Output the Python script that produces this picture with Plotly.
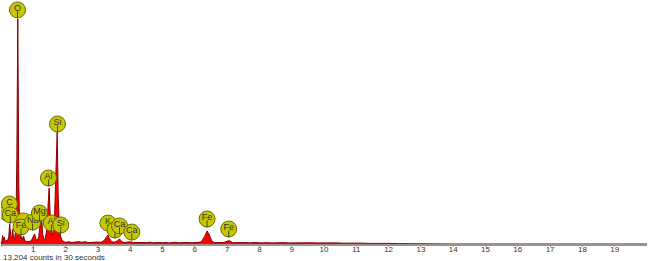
import plotly.graph_objects as go

# ---- spectrum (energy keV, counts) ----
energy = [0.00, 0.03, 0.05, 0.08, 0.10, 0.13, 0.16, 0.20, 0.24, 0.27, 0.30, 0.33, 0.36, 0.39, 0.42,
          0.46, 0.49, 0.52, 0.55, 0.58, 0.61, 0.64, 0.67, 0.70, 0.73, 0.77, 0.80, 0.85, 0.90, 0.95,
          1.00, 1.04, 1.08, 1.12, 1.17, 1.21, 1.25, 1.29, 1.33, 1.37, 1.42, 1.46, 1.49, 1.52, 1.56,
          1.60, 1.65, 1.69, 1.74, 1.77, 1.81, 1.85, 1.89, 1.95,
          2.0, 2.1, 2.2, 2.3, 2.4, 2.5, 2.6, 2.7, 2.8, 2.9, 3.0, 3.1, 3.2, 3.27, 3.31, 3.36, 3.42,
          3.5, 3.6, 3.67, 3.74, 3.8, 3.9, 4.0, 4.1, 4.2, 4.3, 4.4, 4.5, 4.6, 4.7, 4.8, 4.9,
          5.0, 5.1, 5.2, 5.3, 5.4, 5.5, 5.6, 5.7, 5.8, 5.9, 6.0, 6.1, 6.2, 6.3, 6.38, 6.45, 6.52,
          6.6, 6.7, 6.8, 6.9, 7.0, 7.06, 7.12, 7.2, 7.3, 7.4, 7.5, 7.6, 7.7, 7.8, 7.9,
          8.0, 8.1, 8.2, 8.3, 8.4, 8.5, 8.6, 8.7, 8.8, 8.9, 9.0, 9.2, 9.4, 9.6, 9.8,
          10.0, 10.2, 10.4, 10.6, 10.8, 11.0, 11.2, 11.4, 11.6, 11.8, 12.0, 12.3, 12.6, 13.0,
          13.5, 14.0, 20.0]
counts = [0, 25, 70, 35, 55, 20, 30, 25, 60, 165, 70, 40, 120, 50, 40,
          120, 700, 1845, 500, 90, 40, 60, 35, 65, 30, 25, 18, 22, 20, 35,
          70, 82, 40, 28, 60, 200, 262, 80, 35, 45, 120, 330, 459, 250, 110,
          70, 150, 500, 918, 400, 120, 60, 30, 18,
          14, 18, 12, 16, 20, 14, 18, 12, 15, 13, 16, 14, 30, 60, 74, 45, 20,
          14, 25, 41, 20, 12, 14, 18, 12, 14, 10, 13, 11, 15, 10, 14, 12,
          10, 13, 9, 12, 14, 10, 12, 9, 13, 10, 12, 11, 16, 60, 107, 75, 25,
          12, 14, 10, 13, 22, 28, 18, 10, 12, 9, 11, 13, 9, 12, 10,
          14, 9, 11, 13, 9, 10, 12, 8, 11, 9, 10, 12, 8, 10, 9,
          11, 8, 9, 7, 8, 6, 7, 5, 6, 4, 5, 3, 4, 2,
          1, 0, 0]

# ---- element labels (symbol, energy of label, height of label in counts) ----
label_sym = ["", "C", "Ca", "", "Fe", "Na", "Mg", "Al", "Si", "O", "Si", "Al",
             "K", "", "Ca", "Ca", "Fe", "Fe"]
label_e = [0.19, 0.26, 0.29, 0.70, 0.62, 0.98, 1.19, 1.56, 1.85, 0.51, 1.75, 1.47,
           3.31, 3.53, 3.67, 4.05, 6.38, 7.05]
label_y = [254, 328, 238, 189, 139, 180, 254, 172, 156, 1919, 984, 541,
           172, 115, 148, 98, 205, 123]

tick_vals = list(range(0, 20))
tick_text = [str(v) for v in tick_vals]
footer = "13,204 counts in 30 seconds"

Y_MAX = 2000
PLOT_H = 244
cpp = Y_MAX / PLOT_H  # counts per pixel

fig = go.Figure()
fig.add_trace(go.Scatter(x=energy, y=counts, mode="lines", fill="tozeroy",
                         fillcolor="#ff0000", line=dict(color="#8b0000", width=1),
                         hoverinfo="skip", showlegend=False))

for s, e, y in zip(label_sym, label_e, label_y):
    fig.add_trace(go.Scatter(x=[e], y=[y], mode="markers",
                             marker=dict(symbol="circle", size=16, color="#c4c800",
                                         line=dict(color="#6a6a10", width=1)),
                             showlegend=False, hoverinfo="skip"))
    fig.add_trace(go.Scatter(x=[e], y=[y - 5 * cpp], mode="markers",
                             marker=dict(symbol="line-ns", size=5,
                                         line=dict(color="#4a4a20", width=1)),
                             showlegend=False, hoverinfo="skip"))
    if s:
        fig.add_trace(go.Scatter(x=[e], y=[y + 1.5 * cpp], mode="text", text=[s],
                                 textposition="middle center",
                                 textfont=dict(family="Liberation Sans, Arial", size=9,
                                               color="#333333"),
                                 showlegend=False, hoverinfo="skip"))

fig.add_annotation(text=footer, xref="paper", yref="paper", x=0, y=0,
                   xanchor="left", yanchor="top", yshift=-7, xshift=0, showarrow=False,
                   font=dict(family="Liberation Sans, Arial", size=8, color="#333333"))

fig.update_layout(
    width=649, height=261,
    margin=dict(l=1, r=2, t=0, b=17),
    paper_bgcolor="white", plot_bgcolor="white",
    xaxis=dict(range=[0, 20], tickvals=tick_vals, ticktext=tick_text,
               showgrid=False, zeroline=False, showline=True, linecolor="#a09090",
               linewidth=2, ticks="outside", ticklen=1, tickcolor="#999999",
               ticklabelstandoff=-5,
               tickfont=dict(family="Liberation Sans, Arial", size=8, color="#333333")),
    yaxis=dict(range=[0, Y_MAX], visible=False),
)

fig.write_html("out.html", config={"displayModeBar": False},
               post_script="document.body.style.margin='0';document.body.style.overflow='hidden';")
